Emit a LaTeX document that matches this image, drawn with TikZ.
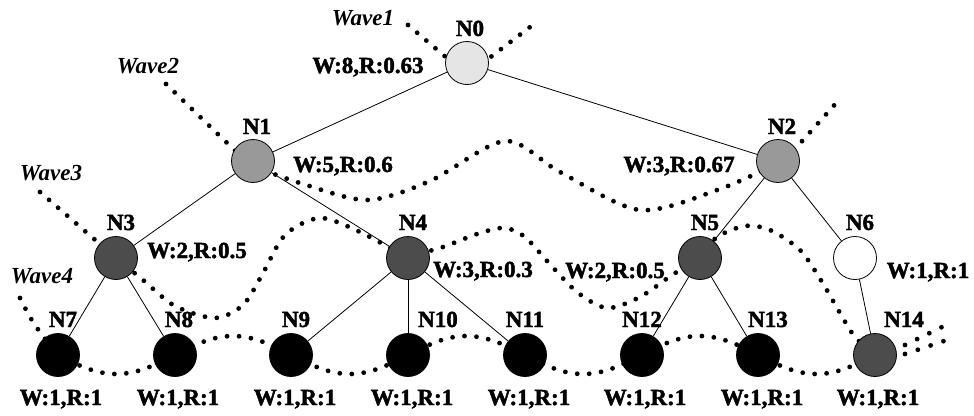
\documentclass[tikz,border=0pt]{standalone}
\usepackage{fontspec}
\setmainfont{Liberation Serif}[BoldFeatures={FakeBold=2}]
\begin{document}
\begin{tikzpicture}[x=1pt,y=-1pt,
  tnode/.style={circle,draw=black,line width=0.8pt,minimum size=43pt,inner sep=0pt},
  lightnode/.style={tnode,fill=black!10},
  midnode/.style={tnode,fill=black!40},
  darknode/.style={tnode,fill=black!70},
  leafnode/.style={tnode,fill=black},
  whitenode/.style={tnode,fill=white},
  txt/.style={inner sep=0pt,anchor=base,font=\fontsize{23}{25}\selectfont\bfseries},
  wavetxt/.style={txt,font=\fontsize{23}{25}\selectfont\bfseries\itshape},
  wave/.style={line width=4.8pt,dash pattern=on 0pt off 12pt,line cap=round},
  edge/.style={line width=0.8pt}
]
\useasboundingbox (0,0) rectangle (974,415);

% ---- dotted waves (drawn first, nodes cover them) ----
% Wave 1
\draw[wave] (408,25) -- (467,75) -- (534,24);
% Wave 2
\draw[wave] (166,84) -- (253,168);
\draw[wave] plot[smooth] coordinates {(253,166) (300,183) (367,200) (430,181) (505,141) (560,172) (640,210) (720,189) (778,163)};
\draw[wave] (778,168) -- (838,101);
% Wave 3
\draw[wave] (40,192) -- (116,258);
\draw[wave] plot[smooth] coordinates {(116,258) (143,280) (175,306) (215,318) (243,305) (262,275) (285,235) (320,218) (360,232) (408,258)};
\draw[wave] plot[smooth] coordinates {(408,256) (440,248) (480,233) (505,228) (525,237) (548,262) (577,292) (607,308) (640,297) (672,275) (700,258)};
\draw[wave] plot[smooth] coordinates {(700,258) (717,237) (745,226) (770,230) (800,250) (822,282) (840,313) (855,337) (875,355)};
\draw[wave,dash pattern=on 0pt off 13.5pt] (905,345) -- (942,327);
% Wave 4
\draw[wave] plot[smooth] coordinates {(20,298) (30,317) (42,335) (58,355)};
\draw[wave] plot[domain=58:875,samples=160,smooth] (\x,{355+19*sin((\x-58)*1.54242)});
\draw[wave,dash pattern=on 0pt off 13.5pt] (905,354) -- (944,341);

% ---- tree nodes ----
\node[lightnode] (N0) at (467,63) {};
\node[midnode] (N1) at (253,161) {};
\node[midnode] (N2) at (778,161) {};
\node[darknode] (N3) at (116,258) {};
\node[darknode] (N4) at (408,258) {};
\node[darknode] (N5) at (700,258) {};
\node[whitenode] (N6) at (855,258) {};
\node[leafnode] (N7) at (58,355) {};
\node[leafnode] (N8) at (175,355) {};
\node[leafnode] (N9) at (291,355) {};
\node[leafnode] (N10) at (408,355) {};
\node[leafnode] (N11) at (525,355) {};
\node[leafnode] (N12) at (642,355) {};
\node[leafnode] (N13) at (758,355) {};
\node[darknode] (N14) at (875,355) {};

% ---- tree edges ----
\draw[edge] (N0) -- (N1);
\draw[edge] (N0) -- (N2);
\draw[edge] (N1) -- (N3);
\draw[edge] (N1) -- (N4);
\draw[edge] (N2) -- (N5);
\draw[edge] (N2) -- (N6);
\draw[edge] (N3) -- (N7);
\draw[edge] (N3) -- (N8);
\draw[edge] (N4) -- (N9);
\draw[edge] (N4) -- (N10);
\draw[edge] (N4) -- (N11);
\draw[edge] (N5) -- (N12);
\draw[edge] (N5) -- (N13);
\draw[edge] (N6) -- (N14);

% ---- node names ----
\node[txt] (tN0) at (470,36) {N0};
\node[txt] (tN1) at (257,134) {N1};
\node[txt] (tN2) at (782,134) {N2};
\node[txt] (tN3) at (121,230) {N3};
\node[txt] (tN4) at (413,230) {N4};
\node[txt] (tN5) at (705,230) {N5};
\node[txt] (tN6) at (860,230) {N6};
\node[txt] (tN7) at (63,327) {N7};
\node[txt] (tN8) at (179,327) {N8};
\node[txt] (tN9) at (296,327) {N9};
\node[txt] (tN10) at (438,327) {N10};
\node[txt] (tN11) at (525,327) {N11};
\node[txt] (tN12) at (642,327) {N12};
\node[txt] (tN13) at (768,327) {N13};
\node[txt] (tN14) at (904,327) {N14};

% ---- weights and ratios ----
\node[txt] (wN0) at (368,73) {W:8,R:0.63};
\node[txt] (wN1) at (343,172) {W:5,R:0.6};
\node[txt] (wN2) at (679,172) {W:3,R:0.67};
\node[txt] (wN3) at (197,258) {W:2,R:0.5};
\node[txt] (wN4) at (483,277) {W:3,R:0.3};
\node[txt] (wN5) at (615,278) {W:2,R:0.5};
\node[txt] (wN6) at (928,278) {W:1,R:1};
\node[txt] (wN7) at (61,405) {W:1,R:1};
\node[txt] (wN8) at (178,405) {W:1,R:1};
\node[txt] (wN9) at (295,405) {W:1,R:1};
\node[txt] (wN10) at (412,405) {W:1,R:1};
\node[txt] (wN11) at (529,405) {W:1,R:1};
\node[txt] (wN12) at (645,405) {W:1,R:1};
\node[txt] (wN13) at (762,405) {W:1,R:1};
\node[txt] (wN14) at (878,405) {W:1,R:1};

% ---- wave names ----
\node[wavetxt] (lw1) at (363,25) {Wave1};
\node[wavetxt] (lw2) at (148,73) {Wave2};
\node[wavetxt] (lw3) at (51,180) {Wave3};
\node[wavetxt] (lw4) at (42,283) {Wave4};
\end{tikzpicture}
\end{document}
